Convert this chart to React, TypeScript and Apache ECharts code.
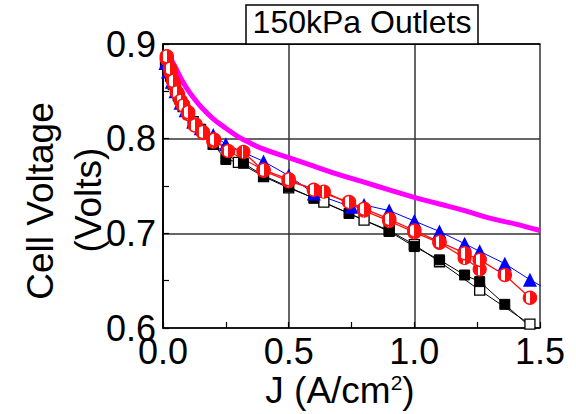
import React, { useEffect, useRef } from "react";
import * as echarts from "echarts";

const FONT = "Liberation Sans, Arial, sans-serif";

const xTicks = [0, 0.5, 1.0, 1.5];
const yTicks = [0.6, 0.7, 0.8, 0.9];

// model curve (magenta)
const modelJ = [0.015, 0.03, 0.05, 0.075, 0.1, 0.125, 0.15, 0.2, 0.25, 0.3, 0.35, 0.4, 0.5, 0.6, 0.7, 0.8, 0.9, 1.0, 1.1, 1.2, 1.3, 1.4, 1.5];
const modelV = [0.893, 0.885, 0.875, 0.862, 0.851, 0.842, 0.834, 0.821, 0.811, 0.802, 0.795, 0.789, 0.780, 0.771, 0.762, 0.754, 0.746, 0.738, 0.731, 0.724, 0.716, 0.710, 0.703];

// blue triangles
const blueJ = [0.01, 0.02, 0.035, 0.05, 0.07, 0.09, 0.12, 0.15, 0.2, 0.25, 0.4, 0.5, 0.6, 0.75, 0.8, 0.9, 1.0, 1.1, 1.2, 1.26, 1.36, 1.46, 1.56];
const blueV = [0.880, 0.871, 0.860, 0.850, 0.838, 0.830, 0.818, 0.811, 0.804, 0.794, 0.776, 0.761, 0.742, 0.728, 0.730, 0.724, 0.713, 0.702, 0.689, 0.681, 0.668, 0.651, 0.636];

// red circles, series A
const redAJ = [0.015, 0.028, 0.04, 0.055, 0.07, 0.08, 0.1, 0.127, 0.158, 0.203, 0.259, 0.4, 0.5, 0.6, 0.74, 0.8, 0.9, 1.0, 1.1, 1.2, 1.26, 1.36, 1.46];
const redAV = [0.887, 0.874, 0.861, 0.849, 0.840, 0.835, 0.828, 0.814, 0.807, 0.799, 0.787, 0.767, 0.757, 0.746, 0.733, 0.726, 0.715, 0.703, 0.691, 0.679, 0.672, 0.656, 0.632];

// red circles, series B
const redBJ = [0.015, 0.03, 0.045, 0.06, 0.08, 0.1, 0.13, 0.16, 0.2, 0.32, 0.4, 0.5, 0.64, 0.8, 0.9, 1.0, 1.1, 1.2, 1.26];
const redBV = [0.884, 0.870, 0.857, 0.847, 0.836, 0.826, 0.815, 0.806, 0.797, 0.786, 0.766, 0.755, 0.744, 0.724, 0.713, 0.701, 0.690, 0.674, 0.662];

// black filled squares
const blackFJ = [0.01, 0.02, 0.04, 0.06, 0.08, 0.1, 0.15, 0.2, 0.25, 0.32, 0.4, 0.5, 0.6, 0.74, 0.9, 1.0, 1.1, 1.2, 1.26, 1.36, 1.5];
const blackFV = [0.882, 0.872, 0.857, 0.845, 0.835, 0.826, 0.810, 0.794, 0.778, 0.774, 0.761, 0.749, 0.737, 0.721, 0.702, 0.686, 0.672, 0.656, 0.649, 0.625, 0.592];

// black open squares
const blackOJ = [0.01, 0.03, 0.05, 0.08, 0.12, 0.2, 0.3, 0.4, 0.5, 0.64, 0.8, 0.9, 1.0, 1.1, 1.26, 1.46, 1.55];
const blackOV = [0.880, 0.866, 0.851, 0.834, 0.818, 0.794, 0.775, 0.760, 0.748, 0.733, 0.714, 0.703, 0.688, 0.670, 0.640, 0.604, 0.588];

const zip = (a: number[], b: number[]) => a.map((v, i) => [v, b[i]]);

export default function App() {
  const ref = useRef<HTMLDivElement>(null);
  useEffect(() => {
    if (!ref.current) return;
    const chart = echarts.init(ref.current, null, { renderer: "svg" });
    const red = "#ff1010";
    const halfA = new echarts.graphic.LinearGradient(0, 0, 1, 0, [
      { offset: 0, color: red },
      { offset: 0.2, color: red },
      { offset: 0.2, color: "#ffffff" },
      { offset: 0.5, color: "#ffffff" },
      { offset: 0.5, color: red },
      { offset: 1, color: red },
    ]);
    const halfB = new echarts.graphic.LinearGradient(0, 0, 1, 0, [
      { offset: 0, color: red },
      { offset: 0.38, color: red },
      { offset: 0.38, color: "#ffffff" },
      { offset: 0.5, color: "#ffffff" },
      { offset: 0.5, color: red },
      { offset: 1, color: red },
    ]);
    const axisCommon = {
      axisLine: { show: true, lineStyle: { color: "#000", width: 1.5 } },
      axisTick: { show: true, inside: true, length: 6, lineStyle: { color: "#000", width: 1.2 } },
      minorTick: { show: true, splitNumber: 2, length: 6, lineStyle: { color: "#000", width: 1.2 } },
      splitLine: { show: true, lineStyle: { color: "#333", width: 1.5 } },
      axisLabel: { color: "#000", fontSize: 36, fontFamily: FONT },
    };
    chart.setOption({
      animation: false,
      backgroundColor: "#fff",
      grid: { left: 163, right: 36, top: 44, bottom: 86, show: false },
      xAxis: [
        {
          type: "value", min: 0, max: 1.5, interval: 0.5, ...axisCommon,
          axisLabel: { ...axisCommon.axisLabel, margin: 5, formatter: (v: number) => v.toFixed(1) },
        },
        {
          type: "value", position: "top", min: 0, max: 1.5, interval: 0.5,
          axisLine: { show: true, lineStyle: { color: "#000", width: 1.5 } },
          axisTick: { show: false }, axisLabel: { show: false }, splitLine: { show: false },
        },
      ],
      yAxis: [
        {
          type: "value", min: 0.6, max: 0.9, interval: 0.1, ...axisCommon,
          axisLabel: { ...axisCommon.axisLabel, margin: 7, formatter: (v: number) => v.toFixed(1) },
        },
        {
          type: "value", position: "right", min: 0.6, max: 0.9, interval: 0.1,
          axisLine: { show: true, lineStyle: { color: "#000", width: 1.5 } },
          axisTick: { show: false }, axisLabel: { show: false }, splitLine: { show: false },
        },
      ],
      series: [
        {
          type: "line", data: zip(blackOJ, blackOV), symbol: "rect", symbolSize: 10,
          lineStyle: { color: "#000", width: 1 },
          itemStyle: { color: "#fff", borderColor: "#000", borderWidth: 1.3 },
        },
        {
          type: "line", data: zip(blackFJ, blackFV), symbol: "rect", symbolSize: 10,
          lineStyle: { color: "#000", width: 1 },
          itemStyle: { color: "#000", borderColor: "#000", borderWidth: 1 },
        },
        {
          type: "line", data: zip(blueJ, blueV), symbol: "triangle", symbolSize: 14,
          lineStyle: { color: "#0000ff", width: 1 },
          itemStyle: { color: "#0000ff", borderColor: "#0000ff", borderWidth: 0 },
        },
        {
          type: "line", data: zip(redBJ, redBV), symbol: "circle", symbolSize: 13,
          lineStyle: { color: red, width: 1.3 },
          itemStyle: { color: halfB, borderColor: red, borderWidth: 1.2 },
        },
        {
          type: "line", data: zip(redAJ, redAV), symbol: "circle", symbolSize: 13,
          lineStyle: { color: red, width: 1.3 },
          itemStyle: { color: halfA, borderColor: red, borderWidth: 1.5 },
        },
        {
          type: "line", data: zip(modelJ, modelV), symbol: "none", smooth: 0.4,
          lineStyle: { color: "#ff00ff", width: 5 },
        },
      ],
      graphic: [
        {
          type: "rect", z: 100,
          shape: { x: 246, y: 5, width: 232, height: 39 },
          style: { fill: "#fff", stroke: "#000", lineWidth: 1.5 },
        },
        {
          type: "text", z: 101, x: 362, y: 22,
          style: { text: "150kPa Outlets", font: `32px ${FONT}`, fill: "#000", textAlign: "center", textVerticalAlign: "middle" },
        },
        {
          type: "text", z: 101, x: 40, y: 201, rotation: Math.PI / 2,
          style: { text: "Cell Voltage", font: `37px ${FONT}`, fill: "#000", textAlign: "center", textVerticalAlign: "middle" },
        },
        {
          type: "text", z: 101, x: 88, y: 200, rotation: Math.PI / 2,
          style: { text: "(Volts)", font: `37px ${FONT}`, fill: "#000", textAlign: "center", textVerticalAlign: "middle" },
        },
        {
          type: "text", z: 101, x: 340, y: 390,
          style: {
            text: "J (A/cm{sup|2})",
            fontSize: 37, fontFamily: FONT, fill: "#000",
            textAlign: "center", textVerticalAlign: "middle",
            rich: { sup: { fontSize: 21, fontFamily: FONT, padding: [0, 0, 16, 0] } },
          },
        },
      ],
    });
    return () => chart.dispose();
  }, []);
  return <div ref={ref} style={{ width: 576, height: 414, position: "absolute", left: 0, top: 0 }} />;
}
